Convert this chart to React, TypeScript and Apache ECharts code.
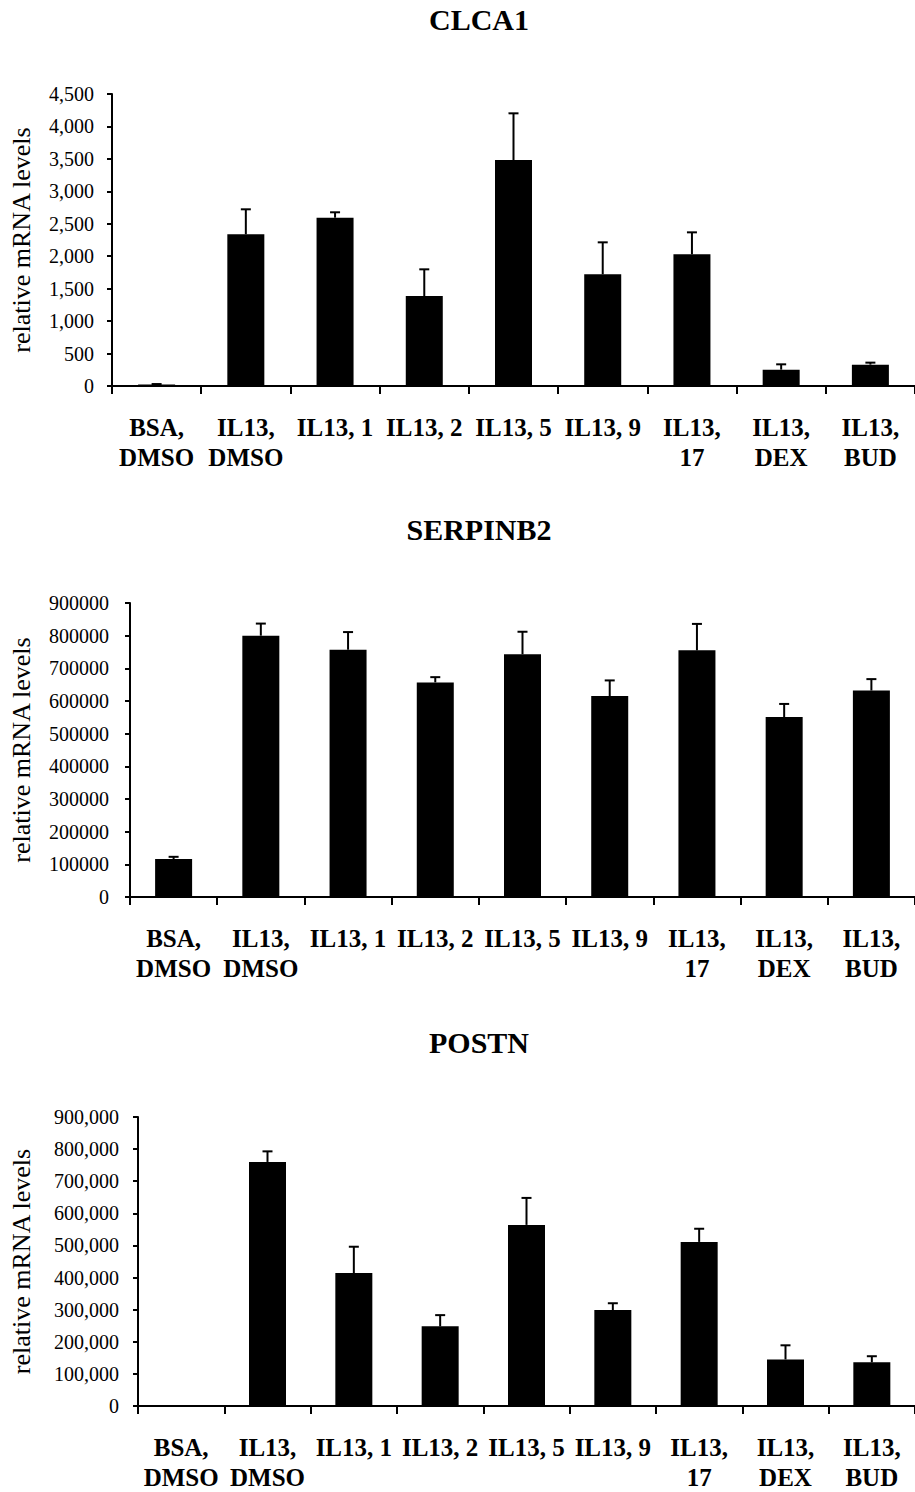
import React, { useEffect, useRef } from "react";
import * as echarts from "echarts";

const categories = [
  "BSA,\nDMSO",
  "IL13,\nDMSO",
  "IL13, 1",
  "IL13, 2",
  "IL13, 5",
  "IL13, 9",
  "IL13,\n17",
  "IL13,\nDEX",
  "IL13,\nBUD",
];

const titles = ["CLCA1", "SERPINB2", "POSTN"];
const yAxisName = "relative mRNA levels";

const clca1Mean = [25, 2338, 2594, 1387, 3483, 1721, 2029, 252, 329];
const clca1Err = [5, 385, 83, 411, 719, 493, 339, 82, 31];

const serpinb2Mean = [116000, 800000, 757000, 657000, 743000, 615000, 755000, 551000, 632000];
const serpinb2Err = [7000, 37000, 54000, 16000, 69000, 48000, 81000, 40000, 35000];

const postnMean = [0, 760000, 414000, 248000, 564000, 299000, 511000, 145000, 136000];
const postnErr = [0, 33000, 82000, 35000, 84000, 21000, 41000, 44000, 19000];

const yMax = [4500, 900000, 900000];
const yInterval = [500, 100000, 100000];
const useComma = [true, false, true];

const FONT = "'Liberation Serif', 'Times New Roman', serif";

export default function App() {
  const ref = useRef<HTMLDivElement>(null);

  useEffect(() => {
    if (!ref.current) return;
    const chart = echarts.init(ref.current, null, { renderer: "svg" });

    const grids = [
      { left: 112, top: 94, width: 810, height: 292 },
      { left: 129, top: 603, width: 792, height: 294 },
      { left: 137, top: 1117, width: 785, height: 292 },
    ];
    const nameGaps = [78, 96, 104];
    const labelMargins = [18, 21, 19];
    const titleTops = [4, 514, 1027];
    const means = [clca1Mean, serpinb2Mean, postnMean];
    const errs = [clca1Err, serpinb2Err, postnErr];

    const fmt = (comma: boolean) => (v: number) =>
      comma ? v.toLocaleString("en-US") : String(v);

    const errRender = (params: any, api: any) => {
      const x = api.value(0);
      const m = api.value(1);
      const hi = api.value(2);
      if (hi <= m) return null;
      const p0 = api.coord([x, m]);
      const p1 = api.coord([x, hi]);
      const half = 5;
      return {
        type: "group",
        children: [
          {
            type: "line",
            shape: { x1: p0[0], y1: p0[1], x2: p1[0], y2: p1[1] },
            style: { stroke: "#000", lineWidth: 2 },
          },
          {
            type: "line",
            shape: { x1: p1[0] - half, y1: p1[1], x2: p1[0] + half, y2: p1[1] },
            style: { stroke: "#000", lineWidth: 2 },
          },
        ],
      };
    };

    const option: any = {
      animation: false,
      backgroundColor: "#fff",
      title: titles.map((t, i) => ({
        text: t,
        left: 479,
        top: titleTops[i],
        padding: 0,
        textAlign: "center",
        textStyle: {
          fontFamily: FONT,
          fontSize: 30,
          fontWeight: "bold",
          color: "#000",
        },
      })),
      grid: grids,
      xAxis: grids.map((_, i) => ({
        type: "category",
        gridIndex: i,
        data: categories,
        axisLine: { show: true, lineStyle: { color: "#000", width: 2 } },
        axisTick: { show: true, length: 8, lineStyle: { color: "#000", width: 2 } },
        axisLabel: {
          interval: 0,
          margin: 26,
          color: "#000",
          fontFamily: FONT,
          fontSize: 25,
          fontWeight: "bold",
          lineHeight: 30,
        },
        splitLine: { show: false },
      })),
      yAxis: grids.map((_, i) => ({
        type: "value",
        gridIndex: i,
        min: 0,
        max: yMax[i],
        interval: yInterval[i],
        name: yAxisName,
        nameLocation: "middle",
        nameGap: nameGaps[i],
        nameTextStyle: { fontFamily: FONT, fontSize: 26, color: "#000" },
        axisLine: { show: true, lineStyle: { color: "#000", width: 2 } },
        axisTick: { show: true, length: 5, lineStyle: { color: "#000", width: 2 } },
        axisLabel: {
          margin: labelMargins[i],
          color: "#000",
          fontFamily: FONT,
          fontSize: 20,
          formatter: fmt(useComma[i]),
        },
        splitLine: { show: false },
      })),
      series: [
        ...means.map((m, i) => ({
          type: "bar",
          xAxisIndex: i,
          yAxisIndex: i,
          data: m,
          barWidth: 37,
          itemStyle: { color: "#000" },
        })),
        ...means.map((m, i) => ({
          type: "custom",
          xAxisIndex: i,
          yAxisIndex: i,
          renderItem: errRender,
          encode: { x: 0, y: [1, 2] },
          data: m.map((v, j) => [j, v, v + errs[i][j]]),
          z: 3,
        })),
      ],
    };

    chart.setOption(option);
    return () => chart.dispose();
  }, []);

  return (
    <div
      ref={ref}
      style={{ position: "absolute", left: 0, top: 0, width: 915, height: 1492, overflow: "hidden" }}
    />
  );
}
